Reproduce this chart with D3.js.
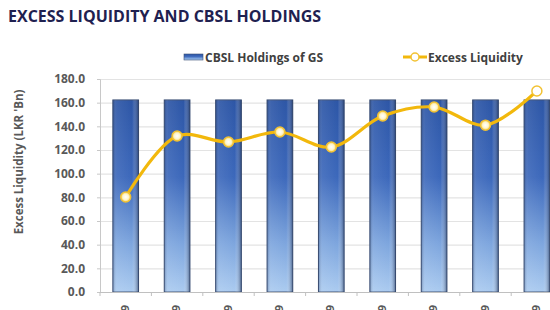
<!DOCTYPE html>
<html>
<head>
<meta charset="utf-8">
<script src="https://cdn.jsdelivr.net/npm/d3@7"></script>
<style>
  body { margin: 0; background: #fff; overflow: hidden; }
  text { font-family: "Open Sans", "DejaVu Sans", sans-serif; }
</style>
</head>
<body>
<div id="graph"></div>
<script>

// data
var periods = ["Jan-19", "Feb-19", "Mar-19", "Apr-19", "May-19", "Jun-19", "Jul-19", "Aug-19", "Sep-19"];
var holdings = [162.3, 162.3, 162.3, 162.3, 162.3, 162.3, 162.3, 162.3, 162.3];
var liquidity = [80.3, 131.8, 126.8, 135.2, 122.5, 148.7, 156.3, 141.0, 169.9];
var yTicks = [0, 20, 40, 60, 80, 100, 120, 140, 160, 180];

var W = 550, H = 310;
var plot = {left: 100, top: 79, bottom: 292, right: 562.6};

var svg = d3.select("#graph")
  .append("svg")
    .attr("width", W)
    .attr("height", H);

var defs = svg.append("defs");

// vertical gradient of the bars
var vg = defs.append("linearGradient")
  .attr("id", "barFill")
  .attr("x1", 0).attr("y1", 0).attr("x2", 0).attr("y2", 1);
vg.append("stop").attr("offset", "0%").attr("stop-color", "#2d56a6");
vg.append("stop").attr("offset", "40%").attr("stop-color", "#3c68bb");
vg.append("stop").attr("offset", "75%").attr("stop-color", "#7ea6de");
vg.append("stop").attr("offset", "100%").attr("stop-color", "#abcbf0");

// side shading for the 3d look
var hg = defs.append("linearGradient")
  .attr("id", "barShade")
  .attr("x1", 0).attr("y1", 0).attr("x2", 1).attr("y2", 0);
hg.append("stop").attr("offset", "0%").attr("stop-color", "#1c2f55").attr("stop-opacity", 0.35);
hg.append("stop").attr("offset", "15%").attr("stop-color", "#ffffff").attr("stop-opacity", 0.08);
hg.append("stop").attr("offset", "75%").attr("stop-color", "#ffffff").attr("stop-opacity", 0);
hg.append("stop").attr("offset", "100%").attr("stop-color", "#1c2f55").attr("stop-opacity", 0.6);

var glow = defs.append("radialGradient").attr("id", "dotGlow");
glow.append("stop").attr("offset", "0%").attr("stop-color", "#ffffff");
glow.append("stop").attr("offset", "55%").attr("stop-color", "#fff6cf");
glow.append("stop").attr("offset", "100%").attr("stop-color", "#f7d25a");

// title
svg.append("text")
  .attr("x", 8)
  .attr("y", 22)
  .style("font-size", "16px")
  .style("font-weight", "700")
  .attr("fill", "#1f2150")
  .text("EXCESS LIQUIDITY AND CBSL HOLDINGS");

// scales
var x = d3.scaleBand()
  .domain(periods)
  .range([plot.left, plot.right])
  .padding(0);

var y = d3.scaleLinear()
  .domain([0, 180])
  .range([plot.bottom, plot.top]);

// gridlines
svg.append("g")
  .selectAll("line")
  .data(yTicks.slice(1))
  .enter()
  .append("line")
    .attr("x1", plot.left)
    .attr("x2", W)
    .attr("y1", function(d) { return y(d) + 0.5; })
    .attr("y2", function(d) { return y(d) + 0.5; })
    .attr("stroke", "#e3e3e3")
    .attr("stroke-width", 1.2);

// y axis
var yAxis = svg.append("g")
  .attr("transform", "translate(" + plot.left + ",0)")
  .call(d3.axisLeft(y).tickValues(yTicks).tickSize(3).tickFormat(d3.format(".1f")));
yAxis.select(".domain").attr("stroke", "#c8c8c8");
yAxis.selectAll(".tick line").attr("stroke", "#c8c8c8");
yAxis.selectAll(".tick text")
  .attr("x", -15)
  .attr("fill", "#595959")
  .style("font-size", "12px")
  .style("font-weight", "700");

// y axis title
svg.append("text")
  .attr("transform", "translate(23,162) rotate(-90)")
  .attr("text-anchor", "middle")
  .style("font-size", "11.5px")
  .style("font-weight", "700")
  .attr("fill", "#595959")
  .text("Excess Liquidity (LKR 'Bn)");

// bars
var bw = x.bandwidth() * 0.5;
var bars = svg.append("g")
  .selectAll("g")
  .data(holdings)
  .enter()
  .append("g");

bars.append("rect")
  .attr("x", function(d, i) { return x(periods[i]) + (x.bandwidth() - bw) / 2; })
  .attr("y", function(d) { return y(d); })
  .attr("width", bw)
  .attr("height", function(d) { return y(0) - y(d); })
  .attr("fill", "url(#barFill)")
  .attr("stroke", "#3d5075")
  .attr("stroke-width", 1);

bars.append("rect")
  .attr("x", function(d, i) { return x(periods[i]) + (x.bandwidth() - bw) / 2; })
  .attr("y", function(d) { return y(d); })
  .attr("width", bw)
  .attr("height", function(d) { return y(0) - y(d); })
  .attr("fill", "url(#barShade)");

// x axis
svg.append("line")
  .attr("x1", plot.left).attr("x2", W)
  .attr("y1", plot.bottom + 0.5).attr("y2", plot.bottom + 0.5)
  .attr("stroke", "#c0c0c0");

svg.append("g")
  .selectAll("line")
  .data(periods)
  .enter()
  .append("line")
    .attr("x1", function(d) { return x(d); })
    .attr("x2", function(d) { return x(d); })
    .attr("y1", plot.bottom)
    .attr("y2", plot.bottom + 4)
    .attr("stroke", "#c0c0c0");

// category labels, rotated and mostly below the bottom edge as in the source
svg.append("g")
  .selectAll("text")
  .data(periods)
  .enter()
  .append("text")
    .attr("transform", function(d) {
      return "translate(" + (x(d) + x.bandwidth() / 2 + 3) + "," + (plot.bottom + 13) + ") rotate(-90)";
    })
    .attr("text-anchor", "end")
    .style("font-size", "11px")
    .style("font-weight", "700")
    .attr("fill", "#595959")
    .text(function(d) { return d; });

// line
var line = d3.line()
  .x(function(d, i) { return x(periods[i]) + x.bandwidth() / 2; })
  .y(function(d) { return y(d); })
  .curve(d3.curveCatmullRom.alpha(0.5));

svg.append("path")
  .datum(liquidity)
  .attr("d", line)
  .attr("fill", "none")
  .attr("stroke", "#f2b80c")
  .attr("stroke-width", 3.2);

svg.append("g")
  .selectAll("circle")
  .data(liquidity)
  .enter()
  .append("circle")
    .attr("cx", function(d, i) { return x(periods[i]) + x.bandwidth() / 2; })
    .attr("cy", function(d) { return y(d); })
    .attr("r", 5)
    .attr("fill", function(d, i) { return i == liquidity.length - 1 ? "#ffffff" : "url(#dotGlow)"; })
    .attr("stroke", "#f2c233")
    .attr("stroke-width", 1.5);

// legend
var lg = svg.append("g").attr("transform", "translate(0,57)");
lg.append("rect")
  .attr("x", 184).attr("y", -3)
  .attr("width", 19).attr("height", 6)
  .attr("fill", "url(#barFill)")
  .attr("stroke", "#3d5075").attr("stroke-width", 0.6);
lg.append("text")
  .attr("x", 205).attr("y", 4.5)
  .style("font-size", "12px")
  .style("font-weight", "700")
  .attr("fill", "#404040")
  .text("CBSL Holdings of GS");

lg.append("line")
  .attr("x1", 403).attr("x2", 427)
  .attr("y1", 0).attr("y2", 0)
  .attr("stroke", "#f2b80c")
  .attr("stroke-width", 3);
lg.append("circle")
  .attr("cx", 415).attr("cy", 0).attr("r", 4)
  .attr("fill", "#ffffff")
  .attr("stroke", "#f2c233")
  .attr("stroke-width", 1.5);
lg.append("text")
  .attr("x", 428).attr("y", 4.5)
  .style("font-size", "12px")
  .style("font-weight", "700")
  .attr("fill", "#404040")
  .text("Excess Liquidity");

</script>
</body>
</html>
